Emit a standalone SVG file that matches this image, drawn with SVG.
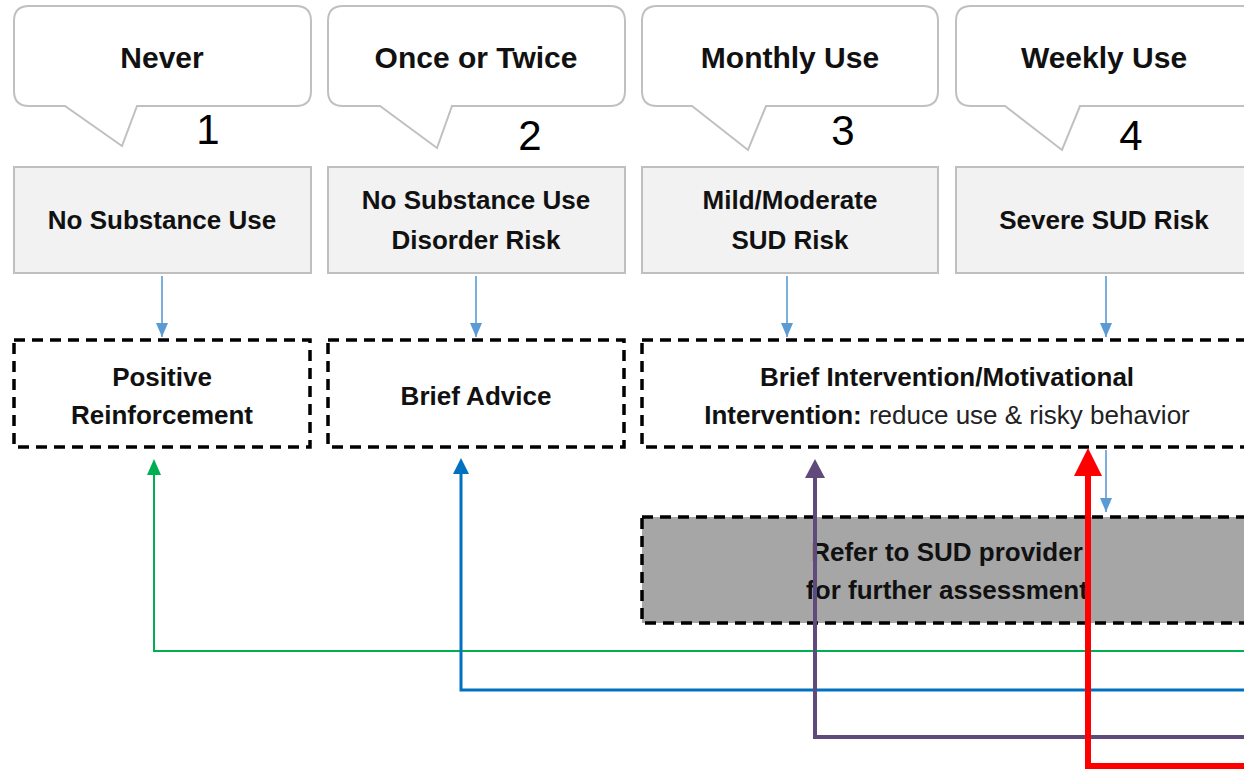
<svg xmlns="http://www.w3.org/2000/svg" width="1244" height="774" viewBox="0 0 1244 774">
<style>
.callout{fill:#ffffff;stroke:#c0c0c0;stroke-width:2}
.grey{fill:#f2f2f2;stroke:#bfbfbf;stroke-width:2}
.dash{fill:#ffffff;stroke:#000000;stroke-width:3.5;stroke-dasharray:11 7}
.dashd{fill:#a6a6a6;stroke:#000000;stroke-width:3.5;stroke-dasharray:11 7}
text{font-family:"Liberation Sans",Arial,sans-serif;fill:#111111;text-anchor:middle}
.ct{font-size:30px;font-weight:bold}
.num{font-size:42px;fill:#000000}
.bt{font-size:26px;font-weight:bold}
.reg{font-weight:normal;fill:#222222}
.down{stroke:#5b9bd5;stroke-width:1.6;fill:none}
</style>
<defs>
<marker id="mBlueS" markerUnits="userSpaceOnUse" markerWidth="14" markerHeight="12" refX="14" refY="6" orient="auto" viewBox="0 0 14 12"><path d="M0,0 L14,6 L0,12 Z" fill="#5b9bd5"/></marker>
</defs>
<g id="callout-never">
<path class="callout" d="M29,6 H296 Q311,6 311,21 V91 Q311,106 296,106 H137 L122,146 L65,106 H29 Q14,106 14,91 V21 Q14,6 29,6 Z"/>
<text class="ct" x="162" y="68">Never</text>
<text class="num" x="208" y="144">1</text>
</g>
<g id="callout-once">
<path class="callout" d="M343,6 H610 Q625,6 625,21 V91 Q625,106 610,106 H452 L437,148 L380,106 H343 Q328,106 328,91 V21 Q328,6 343,6 Z"/>
<text class="ct" x="476" y="68">Once or Twice</text>
<text class="num" x="530" y="150">2</text>
</g>
<g id="callout-monthly">
<path class="callout" d="M657,6 H923 Q938,6 938,21 V91 Q938,106 923,106 H766 L748,150 L692,106 H657 Q642,106 642,91 V21 Q642,6 657,6 Z"/>
<text class="ct" x="790" y="68">Monthly Use</text>
<text class="num" x="843" y="145">3</text>
</g>
<g id="callout-weekly">
<path class="callout" d="M971,6 H1245 Q1260,6 1260,21 V91 Q1260,106 1245,106 H1080 L1062,150 L1005,106 H971 Q956,106 956,91 V21 Q956,6 971,6 Z"/>
<text class="ct" x="1104" y="68">Weekly Use</text>
<text class="num" x="1131" y="150">4</text>
</g>
<g id="risk-none">
<rect class="grey" x="14" y="167" width="297" height="106"/>
<text class="bt" x="162" y="229">No Substance Use</text>
</g>
<g id="risk-nosud">
<rect class="grey" x="328" y="167" width="297" height="106"/>
<text class="bt" x="476" y="209">No Substance Use</text>
<text class="bt" x="476" y="249">Disorder Risk</text>
</g>
<g id="risk-mild">
<rect class="grey" x="642" y="167" width="296" height="106"/>
<text class="bt" x="790" y="209">Mild/Moderate</text>
<text class="bt" x="790" y="249">SUD Risk</text>
</g>
<g id="risk-severe">
<rect class="grey" x="956" y="167" width="300" height="106"/>
<text class="bt" x="1104" y="229">Severe SUD Risk</text>
</g>
<g id="positive-reinforcement">
<rect class="dash" x="14" y="340" width="296" height="107"/>
<text class="bt" x="162" y="386">Positive</text>
<text class="bt" x="162" y="424">Reinforcement</text>
</g>
<g id="brief-advice">
<rect class="dash" x="328" y="340" width="296" height="107"/>
<text class="bt" x="476" y="405">Brief Advice</text>
</g>
<g id="brief-intervention">
<rect class="dash" x="642" y="340" width="620" height="107"/>
<text class="bt" x="947" y="386">Brief Intervention/Motivational</text>
<text class="bt" x="947" y="424">Intervention:<tspan class="reg"> reduce use &amp; risky behavior</tspan></text>
</g>
<g id="refer-provider">
<rect class="dashd" x="642" y="517" width="620" height="106"/>
<text class="bt" x="947" y="561">Refer to SUD provider</text>
<text class="bt" x="947" y="599">for further assessment</text>
</g>
<g id="connectors">
<line class="down" x1="162" y1="276" x2="162" y2="337" marker-end="url(#mBlueS)"/>
<line class="down" x1="476" y1="276" x2="476" y2="337" marker-end="url(#mBlueS)"/>
<line class="down" x1="787" y1="276" x2="787" y2="337" marker-end="url(#mBlueS)"/>
<line class="down" x1="1106" y1="276" x2="1106" y2="337" marker-end="url(#mBlueS)"/>
<line class="down" x1="1106" y1="450" x2="1106" y2="512" marker-end="url(#mBlueS)"/>
<polyline points="1250,651 154,651 154,474" fill="none" stroke="#00b050" stroke-width="2"/>
<polygon points="154,459 147,475 161,475" fill="#00b050"/>
<polyline points="1250,690 461,690 461,473" fill="none" stroke="#0070c0" stroke-width="3"/>
<polygon points="461,458 453,474 469,474" fill="#0070c0"/>
<polyline points="1250,737 815,737 815,476" fill="none" stroke="#604a7b" stroke-width="4"/>
<polygon points="815,459 805,478 825,478" fill="#604a7b"/>
<polyline points="1250,766 1088,766 1088,474" fill="none" stroke="#ff0000" stroke-width="6"/>
<polygon points="1088,448 1074,476 1102,476" fill="#ff0000"/>
</g>
</svg>
